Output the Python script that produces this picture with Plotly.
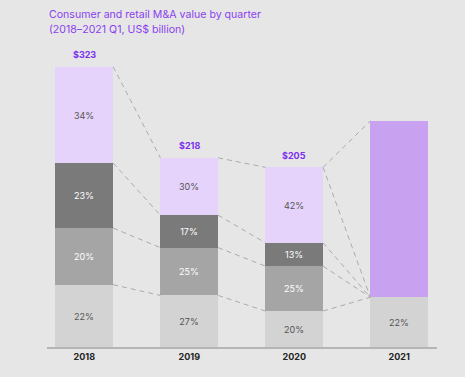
import plotly.graph_objects as go

years = ["2018", "2019", "2020", "2021"]
totals = [323, 218, 205, 258]
total_labels = ["$323", "$218", "$205", ""]
# segment shares (%) from bottom to top
seg_bottom = [22, 27, 20, 22]
seg_mid = [20, 25, 25, None]
seg_dark = [23, 17, 13, None]
seg_top = [34, 30, 42, None]
seg_2021_top = [None, None, None, 78]
title_lines = ["Consumer and retail M&A value by quarter", "(2018–2021 Q1, US$ billion)"]

colors = ["#d3d3d3", "#a5a5a5", "#7a7a7a", "#e6d3fb", "#c8a2f0"]
text_colors = ["#555555", "#ffffff", "#ffffff", "#555555", "#555555"]
segments = [seg_bottom, seg_mid, seg_dark, seg_top, seg_2021_top]

BAR_W = 0.55
xs = list(range(len(years)))

fig = go.Figure()
for seg, col, tc in zip(segments, colors, text_colors):
    vals = [(t * p / 100 if p is not None else 0) for t, p in zip(totals, seg)]
    txt = [(f"{p}%" if (p is not None and col != "#c8a2f0") else "") for p in seg]
    fig.add_trace(go.Bar(
        x=xs, y=vals, width=BAR_W, marker=dict(color=col, line=dict(width=0)),
        text=txt, textposition="inside", insidetextanchor="middle", textangle=0,
        textfont=dict(size=9, color=tc, family="Inter"), hoverinfo="skip",
        showlegend=False,
    ))

def bounds(i):
    b = []
    acc = 0
    for seg in segments:
        p = seg[i]
        if p is None:
            continue
        acc += totals[i] * p / 100
        b.append(acc)
    return b

h = BAR_W / 2
dash = dict(color="#ababab", width=1, dash="5px,4px")
for i in range(2):
    b1, b2 = bounds(i), bounds(i + 1)
    for y1, y2 in zip(b1, b2):
        fig.add_trace(go.Scatter(x=[i + h, i + 1 - h], y=[y1, y2], mode="lines",
                                 line=dash, hoverinfo="skip", showlegend=False))
b20, b21 = bounds(2), bounds(3)
for y1 in b20:
    fig.add_trace(go.Scatter(x=[2 + h, 3 - h], y=[y1, b21[0]], mode="lines",
                             line=dash, hoverinfo="skip", showlegend=False))
fig.add_trace(go.Scatter(x=[2 + h, 3 - h], y=[b20[-1], b21[-1]], mode="lines",
                         line=dash, hoverinfo="skip", showlegend=False))

for i, lab in enumerate(total_labels):
    if lab:
        fig.add_annotation(x=i, y=bounds(i)[-1], text=f"<b>{lab}</b>", showarrow=False,
                           yshift=12, font=dict(size=9, color="#7b2ff0", family="Inter"))

T, B = 49, 30
PLOT_H = 377 - T - B
for line, yc in zip(title_lines, [14, 30]):
    fig.add_annotation(xref="paper", yref="paper", x=0, y=1 + (T - yc) / PLOT_H,
                       xanchor="left", yanchor="middle", align="left", showarrow=False,
                       text=line, font=dict(size=10.6, color="#8a3ff0", family="Inter"))

fig.update_layout(
    barmode="stack",
    width=465, height=377,
    margin=dict(l=47, r=28, t=T, b=B),
    paper_bgcolor="#e6e6e6", plot_bgcolor="#e6e6e6",
    xaxis=dict(tickvals=xs, ticktext=[f"<b>{y}</b>" for y in years], range=[-0.355, 3.36],
               showline=True, linecolor="#b5b5b5", linewidth=2, showgrid=False, zeroline=False,
               ticks="", tickfont=dict(size=9, color="#222222", family="Inter")),
    yaxis=dict(range=[0, 340], visible=False, showgrid=False, zeroline=False),
    bargap=0,
)

fig.write_html("out.html", config={"displayModeBar": False},
               post_script="document.body.style.margin='0px';")
